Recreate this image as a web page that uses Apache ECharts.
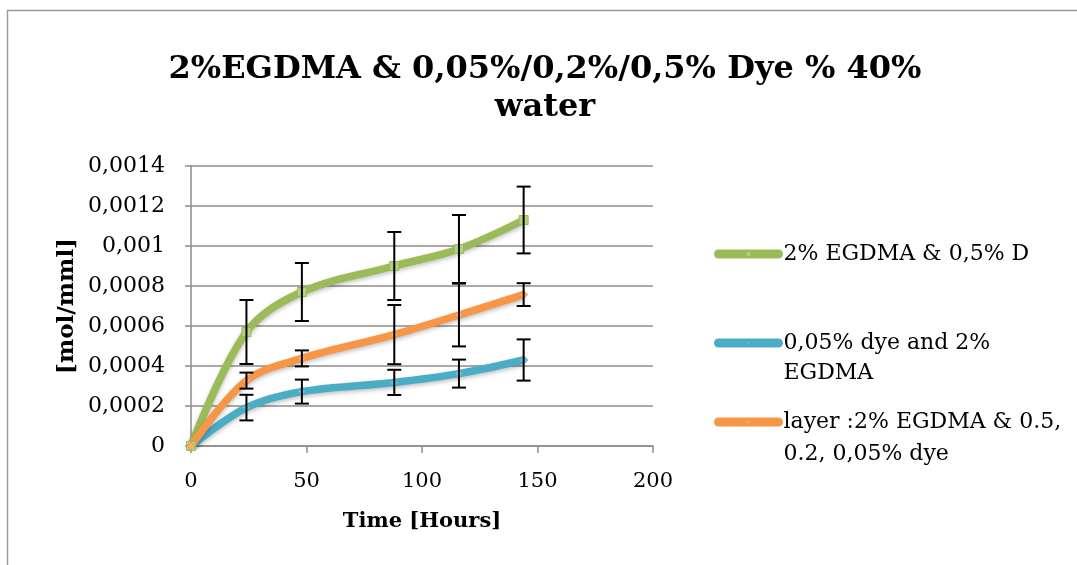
<!DOCTYPE html>
<html>
<head>
<meta charset="utf-8">
<script src="https://cdn.jsdelivr.net/npm/echarts@6/dist/echarts.min.js"></script>
<style>
html,body{margin:0;padding:0;background:#fff;}
#c{width:1077px;height:565px;}
</style>
</head>
<body>
<div id="c"></div>
<script>
const times = [0, 24, 48, 88, 116, 144];
const green = [0, 0.00057, 0.00077, 0.0009, 0.000985, 0.00113];
const greenErr = [0, 0.00016, 0.000145, 0.00017, 0.00017, 0.000167];
const blue = [0, 0.000192, 0.000272, 0.000318, 0.000362, 0.00043];
const blueErr = [0, 0.000064, 0.00006, 0.000063, 0.00007, 0.000103];
const orange = [0, 0.000327, 0.000438, 0.000557, 0.000655, 0.000757];
const orangeErr = [0, 0.00004, 0.00004, 0.000148, 0.000157, 0.000057];
const yTickLabels = ['0', '0,0002', '0,0004', '0,0006', '0,0008', '0,001', '0,0012', '0,0014'];
const xTickLabels = ['0', '50', '100', '150', '200'];
const seriesNames = ['2% EGDMA & 0,5% D', '0,05% dye and 2%\nEGDMA', 'layer :2% EGDMA & 0.5,\n0.2, 0,05% dye'];
const titleText = '2%EGDMA & 0,05%/0,2%/0,5% Dye % 40%\nwater';

const SERIF = '"DejaVu Serif", "Liberation Serif", serif';
const chart = echarts.init(document.getElementById('c'), null, {renderer: 'canvas'});

function pairs(vals) { return times.map((t, i) => [t, vals[i]]); }
function errData(vals, errs) { return times.map((t, i) => [t, vals[i] - errs[i], vals[i] + errs[i]]).filter((d, i) => errs[i] > 0); }

function errRender(params, api) {
  const x = api.value(0);
  const lo = api.coord([x, api.value(1)]);
  const hi = api.coord([x, api.value(2)]);
  const w = 7;
  const st = {stroke: '#000', lineWidth: 2};
  return {
    type: 'group',
    children: [
      {type: 'line', shape: {x1: lo[0], y1: lo[1], x2: hi[0], y2: hi[1]}, style: st},
      {type: 'line', shape: {x1: lo[0] - w, y1: lo[1], x2: lo[0] + w, y2: lo[1]}, style: st},
      {type: 'line', shape: {x1: hi[0] - w, y1: hi[1], x2: hi[0] + w, y2: hi[1]}, style: st}
    ]
  };
}

const colors = ['#9BBB59', '#4BACC6', '#F79646'];
const markerFill = ['#B7D17F', '#6CC3DA', '#F9AE6E'];
const symbols = ['rect', 'diamond', 'diamond'];
const vals = [green, blue, orange];
const errs = [greenErr, blueErr, orangeErr];

const lineSeries = vals.map((v, i) => ({
  name: seriesNames[i],
  type: 'line',
  data: pairs(v),
  smooth: 0.35,
  symbol: symbols[i],
  symbolSize: i === 0 ? 9 : 8,
  showSymbol: true,
  lineStyle: {color: colors[i], width: 7.5, shadowColor: 'rgba(0,0,0,0.25)', shadowBlur: 4, shadowOffsetY: 2},
  itemStyle: {color: markerFill[i], borderColor: colors[i], borderWidth: 1},
  z: 3
}));
const errSeries = vals.map((v, i) => ({
  name: 'err' + i,
  type: 'custom',
  renderItem: errRender,
  data: errData(v, errs[i]),
  encode: {x: 0, y: [1, 2]},
  z: 5,
  silent: true
}));

const legendTops = [239, 298, 374];
const legendLH = [30, 30, 32];
const legends = seriesNames.map((n, i) => ({
  data: [n],
  orient: 'vertical',
  left: 714,
  top: legendTops[i],
  padding: 0,
  itemWidth: 60,
  itemHeight: 7,
  itemGap: 0,
  selectedMode: false,
  lineStyle: {width: 9, cap: 'round'},
  formatter: (name) => name.indexOf('\n') >= 0 ? ' \n' + name : name,
  textStyle: {fontFamily: SERIF, fontSize: 22, color: '#000', lineHeight: legendLH[i]}
}));

chart.setOption({
  animation: false,
  backgroundColor: '#fff',
  title: {
    text: titleText,
    left: 540,
    top: 46,
    textAlign: 'center',
    textStyle: {fontFamily: SERIF, fontWeight: 'bold', fontSize: 32, lineHeight: 38, color: '#000'}
  },
  graphic: [{
    type: 'rect',
    shape: {x: 7.5, y: 10.5, width: 1200, height: 700},
    style: {fill: 'none', stroke: '#9a9a9a', lineWidth: 1.5},
    z: -1, silent: true
  }],
  legend: legends,
  grid: {left: 191, right: 424, top: 166, bottom: 119, containLabel: false},
  xAxis: {
    type: 'value', min: 0, max: 200, interval: 50,
    axisLine: {show: true, lineStyle: {color: '#8c8c8c', width: 1.5}},
    axisTick: {show: true, length: 7, lineStyle: {color: '#8c8c8c', width: 1.5}},
    splitLine: {show: false},
    axisLabel: {fontFamily: SERIF, fontSize: 21, color: '#000', margin: 25,
      formatter: (v) => xTickLabels[Math.round(v / 50)]},
    name: 'Time [Hours]', nameLocation: 'middle', nameGap: 65,
    nameTextStyle: {fontFamily: SERIF, fontSize: 21, fontWeight: 'bold', color: '#000'}
  },
  yAxis: {
    type: 'value', min: 0, max: 0.0014, interval: 0.0002,
    axisLine: {show: true, lineStyle: {color: '#8c8c8c', width: 1.5}},
    axisTick: {show: true, length: 6, lineStyle: {color: '#8c8c8c', width: 1.5}},
    splitLine: {show: true, lineStyle: {color: '#8c8c8c', width: 1.5}},
    axisLabel: {fontFamily: SERIF, fontSize: 22, color: '#000', margin: 26,
      formatter: (v) => yTickLabels[Math.round(v / 0.0002)]},
    name: '[mol/mml]', nameLocation: 'middle', nameGap: 112, nameRotate: 90,
    nameTextStyle: {fontFamily: SERIF, fontSize: 23, fontWeight: 'bold', color: '#000'}
  },
  series: lineSeries.concat(errSeries)
});
</script>
</body>
</html>
